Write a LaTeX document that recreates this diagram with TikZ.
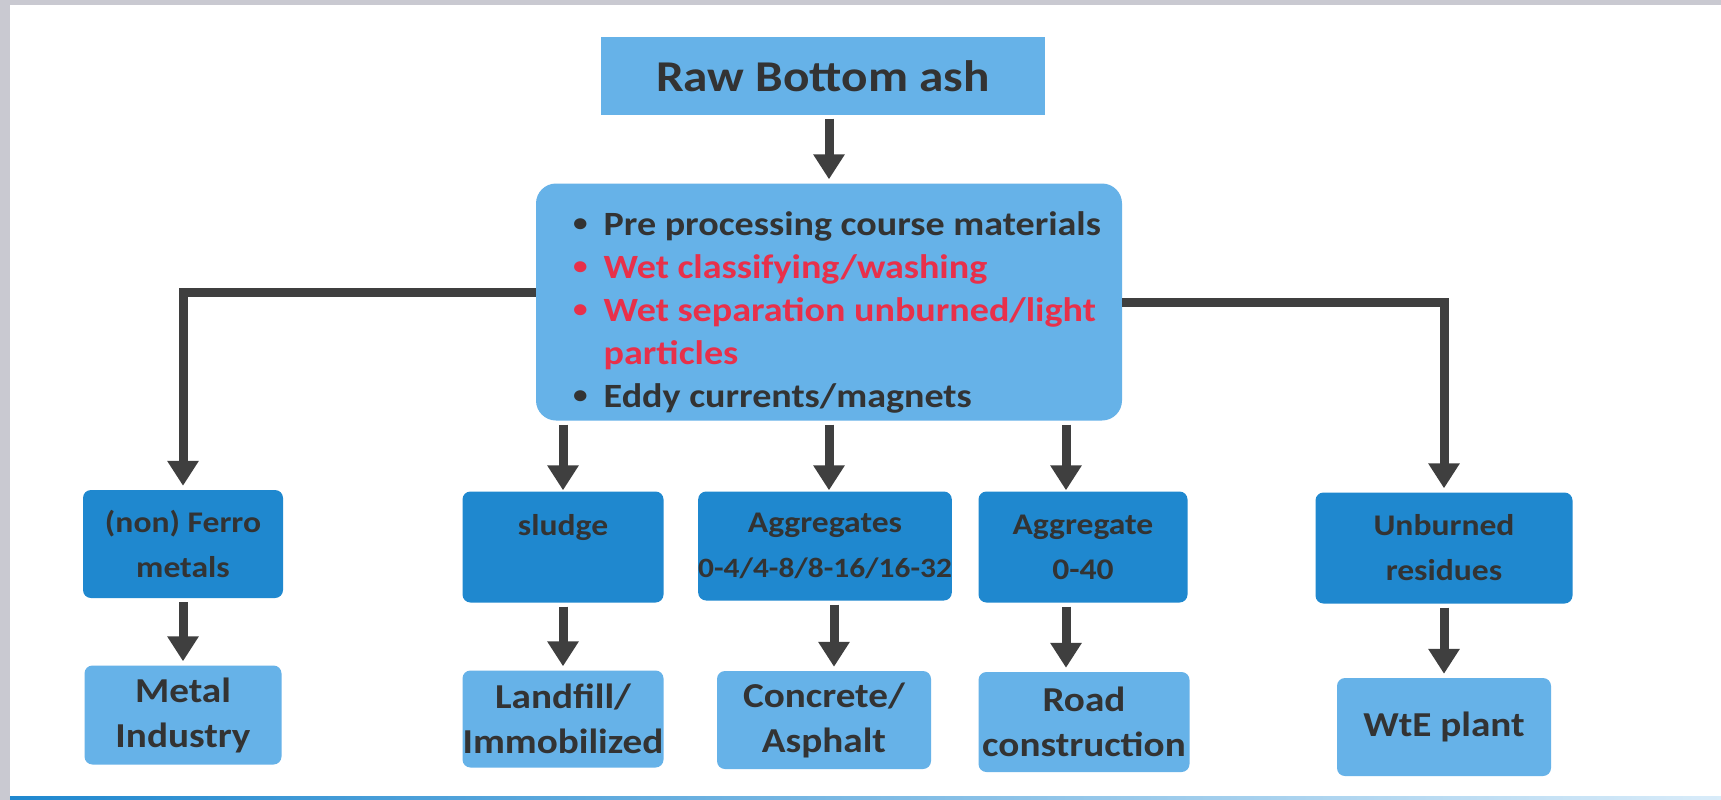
\documentclass[tikz,border=0pt]{standalone}
\usepackage{fontspec}
\setmainfont{Carlito}[FakeStretch=1.12]
\usetikzlibrary{arrows.meta}
\usetikzlibrary{calc}

\definecolor{boxlight}{HTML}{66B2E8}
\definecolor{boxdark}{HTML}{1F88CF}
\definecolor{inkgray}{HTML}{333333}
\definecolor{inkred}{HTML}{E8304A}
\definecolor{arrowgray}{HTML}{3F3F3F}
\definecolor{framegray}{HTML}{C9C9D1}

\newcommand{\hubdot}{\raisebox{4pt}{\fontsize{26}{26}\selectfont\textbullet}}

\tikzset{
  topbox/.style={fill=boxlight, minimum width=444pt, minimum height=77pt, text=inkgray,
    font=\bfseries\fontsize{44}{48}\selectfont},
  hubbox/.style={fill=boxlight, rounded corners=20pt, minimum width=586pt, minimum height=237pt},
  streambox/.style={fill=boxdark, rounded corners=8pt, inner sep=0pt, align=center, text=inkgray,
    font=\bfseries\fontsize{30}{45}\selectfont},
  usebox/.style={fill=boxlight, rounded corners=8pt, inner sep=0pt, align=center, text=inkgray,
    font=\bfseries\fontsize{35}{45}\selectfont},
  flow/.style={draw=arrowgray, line width=9pt, -{Triangle[width=30pt,length=25pt]},
    shorten <=4pt, shorten >=4pt},
}

\begin{document}
\begin{tikzpicture}[x=1pt, y=-1pt]
\useasboundingbox (0,0) rectangle (1721,800);
\fill[white] (0,0) rectangle (1721,800);
\fill[framegray] (0,0) rectangle (1721,5);
\fill[framegray] (0,0) rectangle (10,800);
\shade[left color=boxdark, right color=boxlight!25] (10,796) rectangle (1721,800);

\node[topbox] (raw) at (823,76) {Raw Bottom ash};
\node[hubbox] (hub) at (829,302) {};
\node[anchor=west, inner sep=0pt, text=inkgray, font=\bfseries\fontsize{34}{43}\selectfont] (hubtext) at (573,313)
  {\begin{tabular}{@{}l@{\hspace{16pt}}l@{}}
   \hubdot & Pre processing course materials\\
   \textcolor{inkred}{\hubdot} & \textcolor{inkred}{Wet classifying/washing}\\
   \textcolor{inkred}{\hubdot} & \textcolor{inkred}{Wet separation unburned/light}\\
    & \textcolor{inkred}{particles}\\
   \hubdot & Eddy currents/magnets
   \end{tabular}};

\node[streambox, minimum width=200pt, minimum height=108pt] (ferro) at (183,544) {(non) Ferro\\metals};
\node[streambox, minimum width=201pt, minimum height=111pt] (sludge) at (563,547) {sludge\\\mbox{}};
\node[streambox, minimum width=249pt, minimum height=109pt] (aggs) at (825,546)
  {Aggregates\\{\fontsize{28}{45}\selectfont 0-4/4-8/8-16/16-32}};
\node[streambox, minimum width=209pt, minimum height=111pt] (agg40) at (1083,547) {Aggregate\\0-40};
\node[streambox, minimum width=257pt, minimum height=111pt] (unburned) at (1444,548) {Unburned\\residues};

\node[usebox, minimum width=197pt, minimum height=99pt] (metal) at (183,715) {Metal\\Industry};
\node[usebox, minimum width=201pt, minimum height=97pt] (landfill) at (563,719) {Landfill/\\Immobilized};
\node[usebox, minimum width=214pt, minimum height=98pt] (concrete) at (824,720) {Concrete/\\Asphalt};
\node[usebox, minimum width=211pt, minimum height=100pt] (road) at (1084,722) {Road\\construction};
\node[usebox, minimum width=214pt, minimum height=98pt] (wte) at (1444,727) {WtE plant};

\draw[flow] (raw.south -| hub) -- (hub.north);
\draw[flow, shorten <=0pt] ([yshift=10pt]hub.west) -| (ferro.north);
\draw[flow, shorten <=0pt] (hub.east) -| (unburned.north);
\draw[flow, shorten >=1pt] (hub.south -| sludge) -- (sludge.north);
\draw[flow, shorten >=1pt] (hub.south) -- (hub.south |- aggs.north);
\draw[flow, shorten >=1pt] ([xshift=-17pt]hub.south -| agg40) -- ([xshift=-17pt]agg40.north);

\draw[flow] (ferro.south) -- (metal.north);
\draw[flow] (sludge.south) -- (landfill.north);
\draw[flow] ([xshift=9pt]aggs.south) -- ([xshift=9pt]aggs.south |- concrete.north);
\draw[flow] ([xshift=-17pt]agg40.south) -- ([xshift=-17pt]agg40.south |- road.north);
\draw[flow] (unburned.south) -- (wte.north);
\end{tikzpicture}
\end{document}
